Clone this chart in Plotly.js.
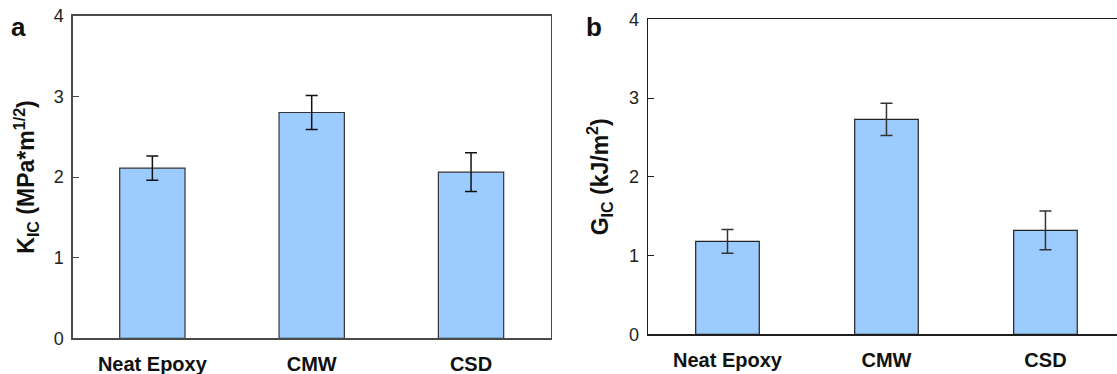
<!DOCTYPE html>
<html>
<head>
<meta charset="utf-8">
<script src="https://cdn.plot.ly/plotly-3.0.1.min.js"></script>
<style>html,body{margin:0;padding:0;background:#fff;}#chart{width:1117px;height:374px;}</style>
</head>
<body>
<div id="chart"></div>
<script>
const categories = ["Neat Epoxy", "CMW", "CSD"];
const kicValues = [2.11, 2.80, 2.06];
const kicErrors = [0.15, 0.21, 0.24];
const gicValues = [1.18, 2.73, 1.32];
const gicErrors = [0.15, 0.205, 0.245];
const yTickValues = [0, 1, 2, 3, 4];

const FONT = "Liberation Sans, Arial, sans-serif";
const barFill = "#9ccbff";
const barLine = "#333333";

const traces = [
  {
    type: "bar", x: categories, y: kicValues, xaxis: "x", yaxis: "y",
    width: 0.41,
    marker: {color: barFill, line: {color: barLine, width: 1.2}},
    error_y: {type: "data", array: kicErrors, visible: true, color: "#111", thickness: 1.5, width: 6},
    hoverinfo: "x+y", showlegend: false
  },
  {
    type: "bar", x: categories, y: gicValues, xaxis: "x2", yaxis: "y2",
    width: 0.40,
    marker: {color: barFill, line: {color: "#222", width: 1.2}},
    error_y: {type: "data", array: gicErrors, visible: true, color: "#333", thickness: 1.5, width: 6},
    hoverinfo: "x+y", showlegend: false
  }
];

const xCommon = {
  type: "category", showline: true, mirror: true, ticks: "", showgrid: false, zeroline: false,
  tickfont: {family: FONT, size: 20, color: "#111", weight: "bold"},
  ticklabelstandoff: 7, automargin: false, fixedrange: true
};
const yCommon = {
  range: [0, 4], tickvals: yTickValues, ticks: "inside", ticklen: 6, showline: true,
  showgrid: false, zeroline: false,
  tickfont: {family: FONT, size: 18, color: "#222"},
  ticklabelstandoff: 4, automargin: false, fixedrange: true
};

const layout = {
  width: 1117, height: 374,
  margin: {l: 0, r: 0, t: 0, b: 0},
  paper_bgcolor: "#fff", plot_bgcolor: "#fff",
  bargap: 0.59,
  xaxis: Object.assign({}, xCommon, {
    domain: [72.7/1117, 550.7/1117], range: [-0.5, 2.5], anchor: "y",
    linecolor: "#4a4a4a", linewidth: 1.3
  }),
  yaxis: Object.assign({}, yCommon, {
    domain: [(374-338.3)/374, (374-15.7)/374], anchor: "x", mirror: true,
    linecolor: "#4a4a4a", linewidth: 1.3, tickcolor: "#4a4a4a",
    title: {text: "<b>K<sub>IC</sub> (MPa*m<sup>1/2</sup>)</b>", font: {family: FONT, size: 23, color: "#111"}, standoff: 12}
  }),
  xaxis2: Object.assign({}, xCommon, {
    domain: [648/1117, 1], range: [-0.5, 2.45], anchor: "y2",
    linecolor: "#1e1e1e", linewidth: 1.3
  }),
  yaxis2: Object.assign({}, yCommon, {
    domain: [(374-334.3)/374, (374-19.3)/374], anchor: "x2", mirror: false,
    linecolor: "#1e1e1e", linewidth: 1.3, tickcolor: "#1e1e1e",
    title: {text: "<b>G<sub>IC</sub> (kJ/m<sup>2</sup>)</b>", font: {family: FONT, size: 23, color: "#111"}, standoff: 14}
  }),
  annotations: [
    {text: "<b>a</b>", xref: "paper", yref: "paper", x: 18/1117, y: 1 - 27/374, xanchor: "center", yanchor: "middle",
     showarrow: false, font: {family: FONT, size: 26, color: "#111"}},
    {text: "<b>b</b>", xref: "paper", yref: "paper", x: 594/1117, y: 1 - 27/374, xanchor: "center", yanchor: "middle",
     showarrow: false, font: {family: FONT, size: 26, color: "#111"}}
  ]
};

Plotly.newPlot("chart", traces, layout, {staticPlot: true, displayModeBar: false});
</script>
</body>
</html>
